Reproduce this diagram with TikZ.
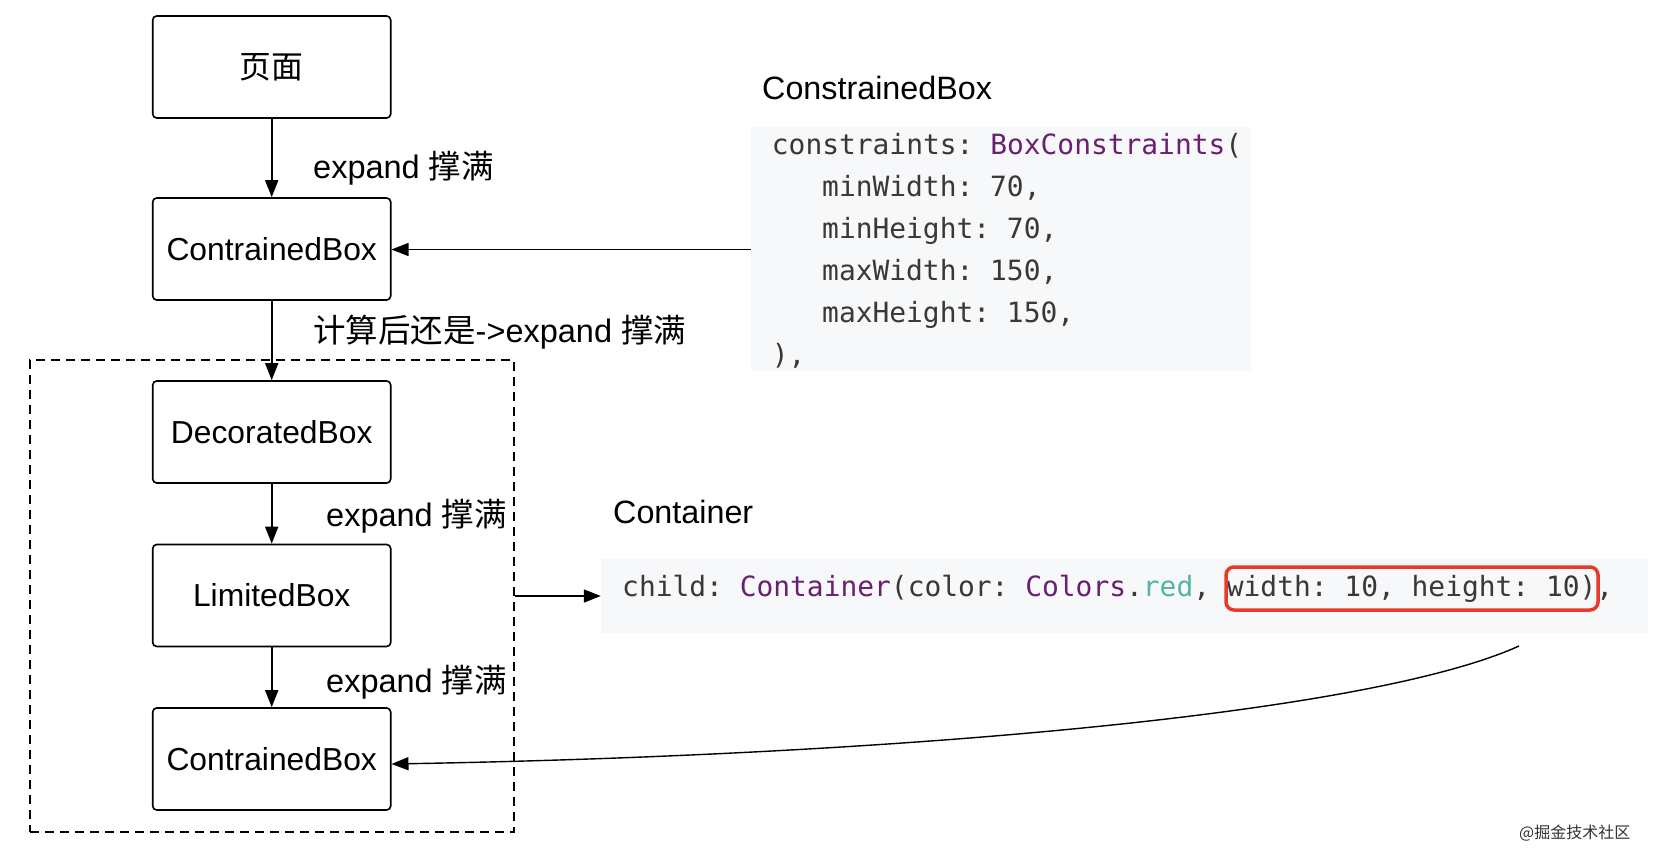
\documentclass[tikz,border=0pt]{standalone}
\usepackage{fontspec}
\setmainfont{Liberation Sans}
\newfontfamily\cjk{Noto Sans CJK SC}
\newfontfamily\codefont{DejaVu Sans Mono}
\usetikzlibrary{arrows.meta}
\definecolor{codebg}{HTML}{F7F8FA}
\definecolor{codetxt}{HTML}{383838}
\definecolor{codepurple}{HTML}{6B1F70}
\definecolor{codeteal}{HTML}{52B5A6}
\definecolor{hlred}{HTML}{E8392D}
\begin{document}
\begin{tikzpicture}[x=1pt,y=-1pt,
  box/.style={draw, line width=1.6pt, rounded corners=4pt, minimum width=238pt, minimum height=102pt, inner sep=0pt, font=\fontsize{31.8}{36}\selectfont},
  conn/.style={line width=1.6pt, -{Triangle[length=17pt,width=13pt]}},
  lbl/.style={anchor=west, inner sep=0pt, font=\fontsize{32.5}{36}\selectfont},
  title/.style={anchor=base west, inner sep=0pt, font=\fontsize{32.3}{36}\selectfont},
  code/.style={anchor=base west, inner sep=0pt, font=\codefont\fontsize{27.9}{32}\selectfont\frenchspacing, text=codetxt},
  panel/.style={fill=codebg, inner sep=0pt},
  grp/.style={draw, line width=1.6pt, dash pattern=on 9pt off 6pt, inner sep=0pt},
]
\fill[white] (0,0) rectangle (1654,858);
\useasboundingbox (0,0) rectangle (1654,858);

% dashed group
\node[grp, minimum width=484pt, minimum height=472pt] (group) at (272,596) {};

% boxes
\node[box] (page) at (271.7,67) {\cjk 页面};
\node[box] (cb1) at (271.7,249) {ContrainedBox};
\node[box] (dec) at (271.7,432) {DecoratedBox};
\node[box] (lim) at (271.7,595.5) {LimitedBox};
\node[box] (cb3) at (271.7,759) {ContrainedBox};

% labels
\node[lbl] (l1) at (313,168) {expand {\cjk 撑满}};
\node[lbl] (l2) at (313,332) {{\cjk 计算后还是}->expand {\cjk 撑满}};
\node[lbl] (l3) at (326,516) {expand {\cjk 撑满}};
\node[lbl] (l4) at (326,682) {expand {\cjk 撑满}};

% code panel 1
\node[title] (t1) at (762,100) {ConstrainedBox};
\node[panel, minimum width=500pt, minimum height=244pt] (panel1) at (1001,249.5) {};
\node[code] (c1) at (771.7,155) {constraints: \textcolor{codepurple}{BoxConstraints}(};
\node[code] (c2) at (822,197) {minWidth: 70,};
\node[code] (c3) at (822,239) {minHeight: 70,};
\node[code] (c4) at (822,281) {maxWidth: 150,};
\node[code] (c5) at (822,323) {maxHeight: 150,};
\node[code] (c6) at (771.7,365) {),};

% code panel 2
\node[title] (t2) at (613,523) {Container};
\node[panel, minimum width=1047pt, minimum height=74pt] (panel2) at (1124.5,596) {};
\node[code] (d1) at (622,596) {child: \textcolor{codepurple}{Container}(color: \textcolor{codepurple}{Colors}.\textcolor{codeteal}{red}, width: 10, height: 10),};
\node[draw=hlred, line width=3.5pt, rounded corners=8pt, minimum width=372pt, minimum height=43pt, inner sep=0pt] (hl) at (1412,588.5) {};

% connectors
\draw[conn] (page) -- (cb1);
\draw[conn] (cb1) -- (dec);
\draw[conn] (dec) -- (lim);
\draw[conn] (lim) -- (cb3);
\draw[conn] (panel1.west) -- (panel1.west -| cb1.east);
\draw[conn] (group.east) -- (panel2.west);
\coordinate (cstart) at (1519,646);
\draw[conn, line width=1.4pt] (cstart) .. controls (1369,714) and (900,755) .. ([yshift=-5pt]cb3.east);

% watermark
\node[anchor=west, inner sep=0pt, font=\cjk\fontsize{16}{18}\selectfont, text=black!80] (wm) at (1519,833) {@掘金技术社区};
\end{tikzpicture}
\end{document}
